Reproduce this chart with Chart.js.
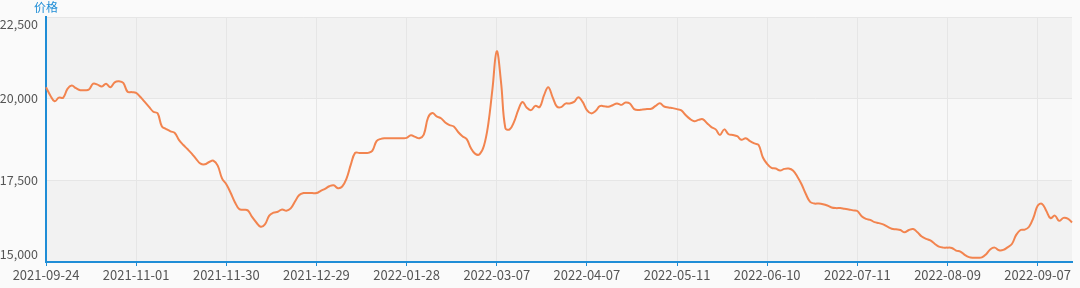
<!DOCTYPE html>
<html>
<head>
<meta charset="utf-8">
<script src="https://cdn.jsdelivr.net/npm/chart.js@4.4.0/dist/chart.umd.min.js"></script>
<style>
  html, body { margin: 0; padding: 0; background: #fafafa; }
  #wrap { position: relative; width: 1080px; height: 288px; }
</style>
</head>
<body>
<div id="wrap"><canvas id="priceChart"></canvas></div>
<script>
  // x axis dates shown every 21 trading days
  const tickDates = ['2021-09-24', '2021-11-01', '2021-11-30', '2021-12-29', '2022-01-28', '2022-03-07',
    '2022-04-07', '2022-05-11', '2022-06-10', '2022-07-11', '2022-08-09', '2022-09-07'];
  const tickStep = 21;
  const yTicks = [15000, 17500, 20000, 22500];

  const prices = [
    20350, 20100, 19920, 20030, 20030, 20300, 20400, 20320, 20260, 20260,
    20280, 20460, 20430, 20370, 20460, 20350, 20500, 20530, 20480, 20210,
    20200, 20180, 20050, 19900, 19750, 19600, 19550, 19150, 19070, 19000,
    18950, 18730, 18580, 18450, 18310, 18150, 18010, 17990, 18060, 18100,
    17950, 17560, 17380, 17120, 16830, 16620, 16600, 16580, 16380, 16210,
    16080, 16150, 16420, 16510, 16540, 16610, 16570, 16640, 16850, 17050,
    17110, 17110, 17110, 17110, 17180, 17240, 17320, 17350, 17260, 17310,
    17550, 17980, 18340, 18340, 18340, 18340, 18400, 18700, 18770, 18790,
    18790, 18790, 18790, 18790, 18800, 18880, 18830, 18790, 18900, 19420,
    19560, 19460, 19400, 19270, 19190, 19150, 18980, 18850, 18760, 18480,
    18310, 18300, 18550, 19200, 20300, 21450, 20500, 19100, 19060, 19280,
    19650, 19900, 19720, 19650, 19780, 19740, 20100, 20350, 20050, 19760,
    19740, 19850, 19850, 19900, 20040, 19900, 19650, 19550, 19620, 19770,
    19770, 19750, 19800, 19850, 19810, 19880, 19850, 19680, 19650, 19670,
    19680, 19690, 19780, 19860, 19760, 19730, 19710, 19680, 19640, 19500,
    19380, 19310, 19350, 19370, 19250, 19130, 19060, 18890, 19060, 18910,
    18890, 18850, 18740, 18790, 18700, 18630, 18580, 18200, 18000, 17880,
    17860, 17800, 17850, 17860, 17800, 17620, 17380, 17080, 16840, 16790,
    16790, 16770, 16730, 16670, 16650, 16650, 16630, 16610, 16580, 16560,
    16400, 16320, 16290, 16220, 16190, 16150, 16080, 16020, 16000, 15980,
    15910, 15980, 16010, 15910, 15780, 15710, 15660, 15560, 15470, 15440,
    15440, 15430, 15350, 15320, 15220, 15150, 15130, 15130, 15140, 15240,
    15390, 15440, 15360, 15370, 15450, 15550, 15830, 15980, 15990, 16080,
    16350, 16720, 16780, 16570, 16340, 16420, 16260, 16350, 16330, 16210
  ];

  const labels = prices.map((_, i) => (i % tickStep === 0 ? tickDates[i / tickStep] : ''));

  const axisBlue = '#1f8dd6';
  const textGrey = '#555555';
  const fontFamily = '"Noto Sans CJK SC", "Noto Sans", sans-serif';

  // alternating horizontal bands + y labels + axis title
  const bandsPlugin = {
    id: 'bands',
    beforeDraw(chart) {
      const { ctx, chartArea, scales } = chart;
      const y = scales.y;
      ctx.save();
      for (let k = 0; k < yTicks.length - 1; k++) {
        const y0 = y.getPixelForValue(yTicks[k]);
        const y1 = y.getPixelForValue(yTicks[k + 1]);
        ctx.fillStyle = k % 2 === 0 ? '#f2f2f2' : '#f8f8f8';
        ctx.fillRect(chartArea.left, y1, chartArea.right - chartArea.left, y0 - y1);
      }
      ctx.restore();
    },
    afterDraw(chart) {
      const { ctx, chartArea, scales } = chart;
      const y = scales.y;
      ctx.save();
      ctx.font = '12.5px ' + fontFamily;
      ctx.fillStyle = textGrey;
      ctx.textAlign = 'right';
      ctx.textBaseline = 'middle';
      yTicks.forEach(v => {
        let py = y.getPixelForValue(v);
        py = Math.min(Math.max(py, chartArea.top + 7), chartArea.bottom - 8);
        ctx.fillText(v.toLocaleString('en-US'), chartArea.left - 8, py);
      });
      ctx.fillStyle = axisBlue;
      ctx.font = '12px ' + fontFamily;
      ctx.textAlign = 'center';
      ctx.fillText('价格', chartArea.left, 7);
      ctx.restore();
    }
  };

  const ctx = document.getElementById('priceChart').getContext('2d');

  const priceChart = new Chart(ctx, {
    type: 'line',
    data: {
      labels: labels,
      datasets: [{
        label: '价格',
        data: prices,
        borderColor: '#f2844f',
        borderWidth: 2,
        pointRadius: 0,
        tension: 0.4,
        fill: false
      }]
    },
    options: {
      responsive: true,
      maintainAspectRatio: false,
      animation: false,
      layout: { padding: { top: 17, right: 8, left: 0, bottom: 0 } },
      plugins: {
        legend: { display: false },
        tooltip: { enabled: false }
      },
      scales: {
        x: {
          offset: false,
          border: { color: axisBlue, width: 2 },
          grid: {
            color: '#e6e6e6',
            tickColor: axisBlue,
            tickLength: 4
          },
          ticks: {
            autoSkip: false,
            maxRotation: 0,
            color: textGrey,
            font: { size: 13, family: fontFamily },
            padding: 1,
            callback: function(value, index) {
              const l = labels[index];
              return l === '' ? null : l;
            }
          },
          afterFit: s => { s.height = 26; }
        },
        y: {
          min: 15000,
          max: 22500,
          border: { color: axisBlue, width: 2 },
          grid: { color: '#e6e6e6', drawTicks: false },
          ticks: { display: false, stepSize: 2500 },
          afterFit: s => { s.width = 46; }
        }
      }
    },
    plugins: [bandsPlugin]
  });
</script>
</body>
</html>
